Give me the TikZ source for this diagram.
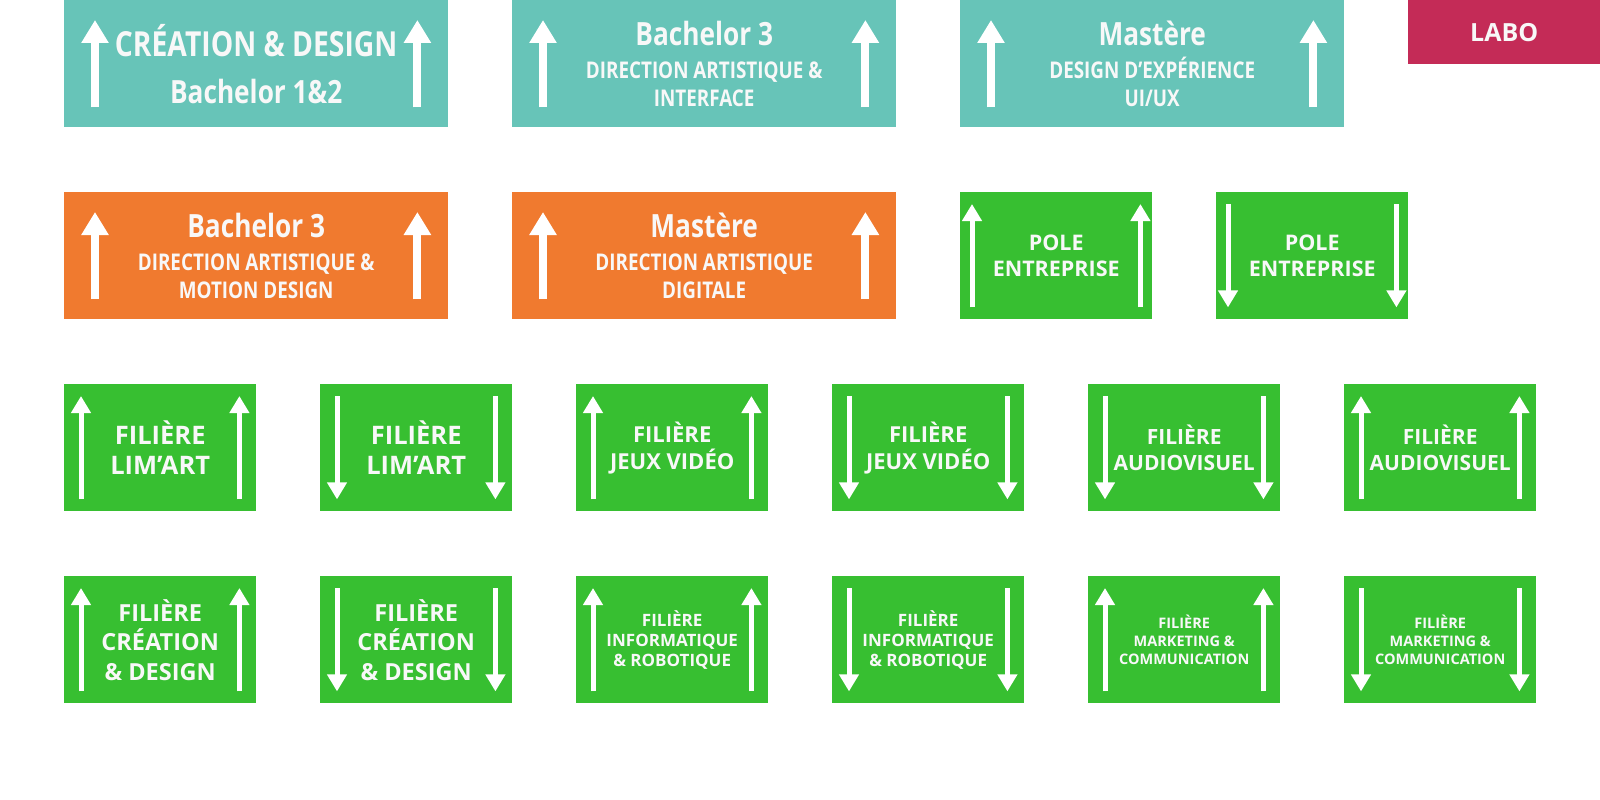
\documentclass[tikz,border=0pt]{standalone}
\usepackage{fontspec}
\setmainfont{Open Sans}
\newfontfamily\etroite[FakeStretch=0.82]{Open Sans}
\usetikzlibrary{arrows.meta}
\definecolor{turquoiseF}{HTML}{67C4B8}
\definecolor{orangeF}{HTML}{F07A2F}
\definecolor{vertF}{HTML}{37BF31}
\definecolor{laboF}{HTML}{C42B57}
\definecolor{blanc}{HTML}{F8F8F8}

\begin{document}
\begin{tikzpicture}[x=1pt,y=-1pt,
  boite/.style={fill=#1,minimum width=192pt,minimum height=127pt,inner sep=0pt,
    anchor=north west,align=center,text=blanc},
  longue/.style={minimum width=384pt},
  corps/.style 2 args={font=\bfseries\fontsize{#1}{#2}\selectfont},
  etroit/.style 2 args={font=\etroite\bfseries\fontsize{#1}{#2}\selectfont},
  fleche/.style={draw=white,line width=5pt,-{Triangle[width=19pt,length=17pt]}},
  grosse/.style={draw=white,line width=8pt,-{Triangle[width=26pt,length=23pt]}}]
\newcommand\monte[4]{
\path[#1] ([xshift=#3,yshift=#4]#2.south west) -- ([xshift=#3,yshift=-#4]#2.north west);
\path[#1] ([xshift=-#3,yshift=#4]#2.south east) -- ([xshift=-#3,yshift=-#4]#2.north east);
}
\newcommand\descend[4]{
\path[#1] ([xshift=#3,yshift=-#4]#2.north west) -- ([xshift=#3,yshift=#4]#2.south west);
\path[#1] ([xshift=-#3,yshift=-#4]#2.north east) -- ([xshift=-#3,yshift=#4]#2.south east);
}
\newcommand\titre[1]{{\fontsize{32}{36}\selectfont #1}\\[5pt]}
\path[use as bounding box] (0,0) rectangle (1600,800);

% ecoles
\node[boite=turquoiseF,longue,etroit={32}{47}] (creation) at (64,0)
  {{\fontsize{34.5}{40}\selectfont CRÉATION \& DESIGN}\\Bachelor 1\&2};
\node[boite=turquoiseF,longue,etroit={23}{28}] (bachelorda) at (512,0)
  {\titre{Bachelor 3}DIRECTION ARTISTIQUE \&\\INTERFACE};
\node[boite=turquoiseF,longue,etroit={23}{28}] (mastereux) at (960,0)
  {\titre{Mastère}DESIGN D’EXPÉRIENCE\\UI/UX};
\node[boite=laboF,minimum height=64pt,corps={25}{30}] (labo) at (1408,0) {LABO};
\monte{grosse}{creation}{31pt}{20pt}
\monte{grosse}{bachelorda}{31pt}{20pt}
\monte{grosse}{mastereux}{31pt}{20pt}

\node[boite=orangeF,longue,etroit={23}{28}] (bachelormd) at (64,192)
  {\titre{Bachelor 3}DIRECTION ARTISTIQUE \&\\MOTION DESIGN};
\node[boite=orangeF,longue,etroit={23}{28}] (mastereda) at (512,192)
  {\titre{Mastère}DIRECTION ARTISTIQUE\\DIGITALE};
\monte{grosse}{bachelormd}{31pt}{20pt}
\monte{grosse}{mastereda}{31pt}{20pt}

% pole entreprise
\node[boite=vertF,corps={21.5}{26}] (pole1) at (960,192) {POLE\\ENTREPRISE};
\node[boite=vertF,corps={21.5}{26}] (pole2) at (1216,192) {POLE\\ENTREPRISE};
\monte{fleche}{pole1}{12pt}{12pt}
\descend{fleche}{pole2}{12pt}{12pt}

% filieres
\node[boite=vertF,corps={25.5}{30}] (limart1) at (64,384) {FILIÈRE\\LIM’ART};
\node[boite=vertF,corps={25.5}{30}] (limart2) at (320,384) {FILIÈRE\\LIM’ART};
\node[boite=vertF,corps={22}{27}] (jeux1) at (576,384) {FILIÈRE\\JEUX VIDÉO};
\node[boite=vertF,corps={22}{27}] (jeux2) at (832,384) {FILIÈRE\\JEUX VIDÉO};
\node[boite=vertF,corps={21}{26}] (audio1) at (1088,384) {FILIÈRE\\AUDIOVISUEL};
\node[boite=vertF,corps={21}{26}] (audio2) at (1344,384) {FILIÈRE\\AUDIOVISUEL};
\monte{fleche}{limart1}{17pt}{12pt}
\descend{fleche}{limart2}{17pt}{12pt}
\monte{fleche}{jeux1}{17pt}{12pt}
\descend{fleche}{jeux2}{17pt}{12pt}
\descend{fleche}{audio1}{17pt}{12pt}
\monte{fleche}{audio2}{17pt}{12pt}

\node[boite=vertF,corps={23.5}{29.5}] (crea1) at (64,576) {FILIÈRE\\CRÉATION\\\& DESIGN};
\node[boite=vertF,corps={23.5}{29.5}] (crea2) at (320,576) {FILIÈRE\\CRÉATION\\\& DESIGN};
\node[boite=vertF,corps={17}{20}] (info1) at (576,576) {FILIÈRE\\INFORMATIQUE\\\& ROBOTIQUE};
\node[boite=vertF,corps={17}{20}] (info2) at (832,576) {FILIÈRE\\INFORMATIQUE\\\& ROBOTIQUE};
\node[boite=vertF,corps={14.5}{18}] (marketing1) at (1088,576) {FILIÈRE\\MARKETING \&\\COMMUNICATION};
\node[boite=vertF,corps={14.5}{18}] (marketing2) at (1344,576) {FILIÈRE\\MARKETING \&\\COMMUNICATION};
\monte{fleche}{crea1}{17pt}{12pt}
\descend{fleche}{crea2}{17pt}{12pt}
\monte{fleche}{info1}{17pt}{12pt}
\descend{fleche}{info2}{17pt}{12pt}
\monte{fleche}{marketing1}{17pt}{12pt}
\descend{fleche}{marketing2}{17pt}{12pt}
\end{tikzpicture}
\end{document}
